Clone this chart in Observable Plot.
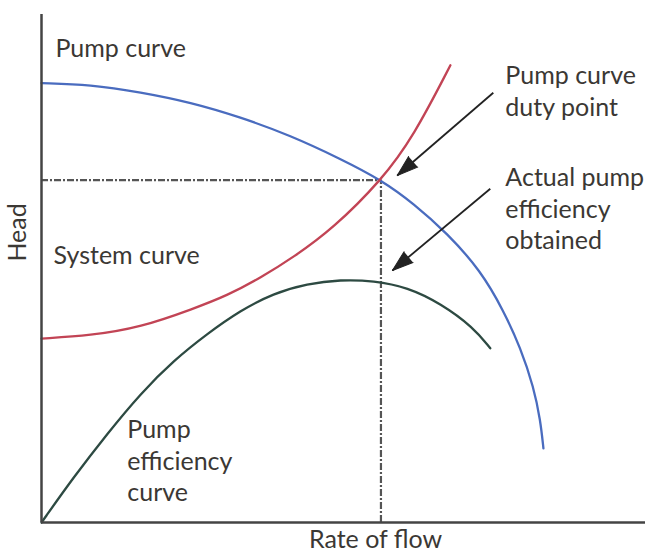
<!DOCTYPE html>
<html><head><meta charset="utf-8">
<script src="https://cdn.jsdelivr.net/npm/d3@7"></script>
<script src="https://cdn.jsdelivr.net/npm/@observablehq/plot@0.6"></script>
<style>body{margin:0;background:#fff}</style>
</head><body><div id="chart"></div>
<script>
// Flow (0-100) vs Head (0-100), relative units
const pumpFlow = [0,8.1,16.4,24.7,32.9,41.2,49.5,56.3,61.6,67.2,72.7,76.5,79.3,81.5,82.6,83.1];
const pumpHead = [86.5,86.2,84.7,82.7,79.8,76.2,71.6,67.4,62.8,56.9,49.6,41.7,34.4,26.6,20.1,14.6];
const sysFlow = [0,8.1,16.4,25.2,30.8,36.3,41.7,48.3,56.3,61.6,67.7];
const sysHead = [36.2,36.8,38.4,42.1,44.7,48.2,52.2,57.9,67.4,76.0,90.0];
const effFlow = [0,5.3,10.9,16.4,21.9,27.5,32.9,38.4,44.0,49.5,55.0,60.6,66.1,71.5,74.3];
const effVal  = [0,8.9,17.5,25.4,31.9,37.2,41.7,45.1,47.0,47.8,47.6,46.3,43.1,38.4,34.3];
const duty = {x: 56.2, y: 67.4};
const labels = [
  {text: "Pump curve", x: 2.3, y: 93.6},
  {text: "System curve", x: 2.0, y: 52.8},
  {text: "Pump\nefficiency\ncurve", x: 14.2, y: 12.4},
  {text: "Pump curve\nduty point", x: 76.8, y: 85.2},
  {text: "Actual pump\nefficiency\nobtained", x: 76.8, y: 62.0}
];
const arrows = [
  {x1: 74.8, y1: 84.6, x2: 58.9, y2: 68.3},
  {x1: 74.3, y1: 65.7, x2: 58.1, y2: 49.6}
];
const axisTitles = [
  {text: "Rate of flow", x: 55.3, y: -3.35, rotate: 0},
  {text: "Head", x: -3.9, y: 57.1, rotate: -90}
];

const toRows = (xs, ys) => xs.map((x, i) => ({x, y: ys[i]}));
const ink = "#3b3834";
// screen angle (clockwise from up) of each arrow, accounting for the x/y pixel ratio
const angle = a => Math.atan2((a.x2 - a.x1) * 6.04, (a.y2 - a.y1) * 5.08) * 180 / Math.PI;

const chart = Plot.plot({
  width: 647, height: 552,
  marginTop: 14, marginBottom: 30, marginLeft: 41, marginRight: 2,
  x: {domain: [0, 100], axis: null},
  y: {domain: [0, 100], axis: null},
  style: {fontFamily: "Lato", fontSize: "25px", background: "#fff", overflow: "visible"},
  marks: [
    Plot.ruleY([duty], {x1: 0, x2: "x", y: "y", stroke: "#555", strokeWidth: 2.2, strokeDasharray: "7,2,2,2"}),
    Plot.ruleX([duty], {x: "x", y1: 0, y2: "y", stroke: "#555", strokeWidth: 2.2, strokeDasharray: "7,2,2,2"}),
    Plot.line(toRows(pumpFlow, pumpHead), {x: "x", y: "y", stroke: "#4a6cbf", strokeWidth: 2.3, curve: "basis"}),
    Plot.line(toRows(sysFlow, sysHead), {x: "x", y: "y", stroke: "#c24455", strokeWidth: 2.3, curve: "basis"}),
    Plot.line(toRows(effFlow, effVal), {x: "x", y: "y", stroke: "#2d4a42", strokeWidth: 2.3, curve: "basis"}),
    Plot.ruleX([0], {y1: 0, y2: 100, stroke: "#444", strokeWidth: 2.5}),
    Plot.ruleY([0], {x1: 0, x2: 100, stroke: "#444", strokeWidth: 2.5}),
    Plot.link(arrows, {x1: "x1", y1: "y1", x2: "x2", y2: "y2", stroke: "#222", strokeWidth: 1.8}),
    Plot.vector(arrows, {x: "x2", y: "y2", rotate: d => angle(d), length: 21, r: 7, shape: "spike", anchor: "end", fill: "#222", stroke: "#222", strokeWidth: 1}),
    Plot.text(labels, {x: "x", y: "y", text: "text", textAnchor: "start", lineAnchor: "middle", lineHeight: 1.27, fill: ink}),
    Plot.text(axisTitles, {x: "x", y: "y", text: "text", rotate: "rotate", textAnchor: "middle", lineAnchor: "middle", fill: ink})
  ]
});
document.getElementById("chart").append(chart);
</script>
</body></html>
